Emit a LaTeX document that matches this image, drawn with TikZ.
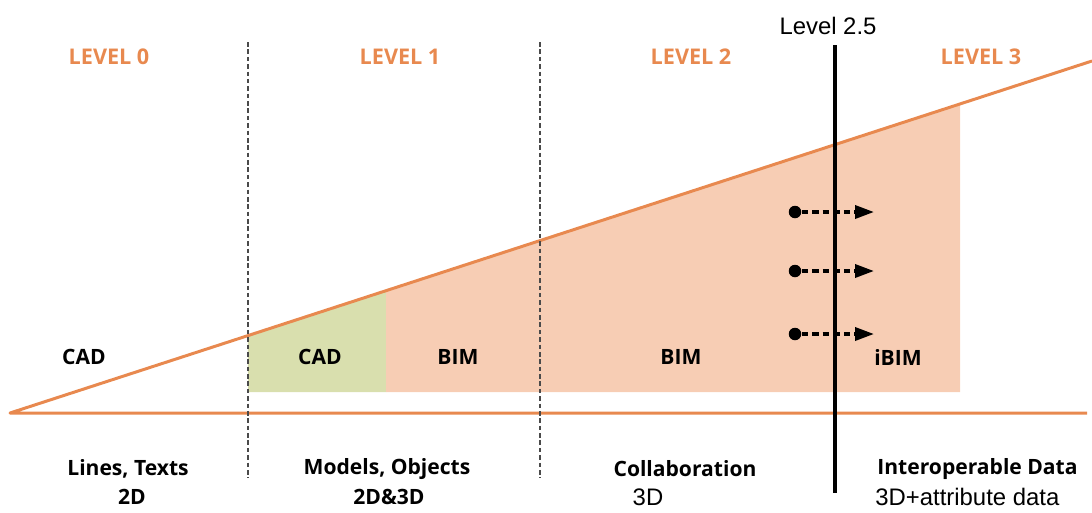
\documentclass[tikz,border=0pt]{standalone}
\usepackage{fontspec}
\setmainfont{Open Sans}
\newfontfamily\arialfont{Liberation Sans}
\usetikzlibrary{calc}
\usetikzlibrary{arrows.meta}

\definecolor{lvlorange}{HTML}{E8894F}
\definecolor{bimpeach}{HTML}{F7CDB4}
\definecolor{cadgreen}{HTML}{D9DFAE}
\definecolor{divgray}{HTML}{4A4A4A}

\begin{document}
\begin{tikzpicture}[x=0.02cm, y=-0.02cm,
  lvl/.style={text=lvlorange, inner sep=0, font=\fontsize{12.3}{14}\selectfont\bfseries},
  tool/.style={inner sep=0, font=\fontsize{12}{14}\selectfont\bfseries},
  desc/.style={inner sep=0, font=\fontsize{12}{14}\selectfont\bfseries},
  plain/.style={inner sep=0, font=\arialfont\fontsize{13.6}{16}\selectfont},
  divider/.style={divgray, line width=1.5pt, dash pattern=on 2.6pt off 1.6pt},
  dot/.style={circle, fill=black, inner sep=0, minimum size=0.25cm},
  flow/.style={line width=2pt, dash pattern=on 3.8pt off 2.2pt, ->, >={Triangle[length=0.38cm, width=0.26cm]}}]
\useasboundingbox (0,0) rectangle (1092,512);
\coordinate (A) at (10,413);
\coordinate (E) at (1092,61);
\coordinate (B) at (1087,413);
\fill[cadgreen] (248,392) -- ($(A)!0.21996!(E)$) -- ($(A)!0.34750!(E)$) -- (386,392) -- cycle;
\fill[bimpeach] (386,392) -- ($(A)!0.34750!(E)$) -- ($(A)!0.87800!(E)$) -- (960,392) -- cycle;
\draw[lvlorange, line width=1.7pt, line join=round] (E) -- (A) -- (B);
\foreach \x [count=\i] in {248,540} {
 \coordinate (top\i) at (\x,42);
 \coordinate (bot\i) at (\x,478);
 \draw[divider] (top\i) -- (bot\i);
}
\node[plain] (l25) at (828,26) {Level 2.5};
\coordinate (top25) at (835,45);
\coordinate (bot25) at (835,493);
\draw[line width=1.8pt] (top25) -- (bot25);
\foreach \y [count=\i] in {212,271,334} {
 \node[dot] (p\i) at (795,\y) {};
 \coordinate (q\i) at (874,\y);
 \draw[flow] (p\i) -- (q\i);
}
\foreach \x/\n in {109/0,400/1,691/2,981/3}
 \node[lvl] (lv\n) at (\x,57) {LEVEL \n};
\node[tool] (cad0) at (84,357) {CAD};
\node[tool] (cad1) at (320,357) {CAD};
\node[tool] (bim1) at (458,357) {BIM};
\node[tool] (bim2) at (681,357) {BIM};
\node[tool] (ibim) at (898,357) {iBIM};
\node[desc] (ds0) at (128,469) {Lines, Texts};
\node[desc] (dm0) at (132,497) {2D};
\node[desc] (ds1) at (387,469) {Models, Objects};
\node[desc] (dm1) at (389,497) {2D\&3D};
\node[desc] (ds2) at (685,469) {Collaboration};
\node[plain] (dm2) at (648,497) {3D};
\node[desc, anchor=west] (ds3) at (877,469) {Interoperable Data};
\node[plain, anchor=west] (dm3) at (875,497) {3D+attribute data};
\end{tikzpicture}
\end{document}
